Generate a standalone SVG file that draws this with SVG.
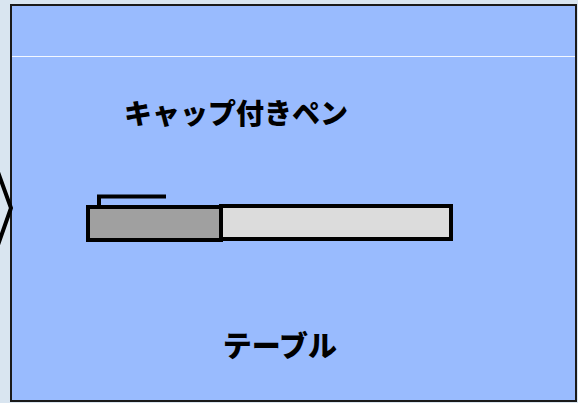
<svg xmlns="http://www.w3.org/2000/svg" width="578" height="403" viewBox="0 0 578 403">
  <style>
    .lbl { font-family: "Noto Sans CJK JP", "Liberation Sans", sans-serif; font-weight: 900; fill: #000; }
    .ink { stroke: #000; stroke-width: 4; fill: none; }
  </style>
  <!-- page background -->
  <rect x="0" y="0" width="578" height="403" fill="#d9e5f0"/>
  <!-- table panel -->
  <g id="table">
    <rect x="11" y="5" width="565" height="396" fill="#99bbfe" stroke="#1a1a1a" stroke-width="2"/>
    <line x1="12" y1="56.5" x2="575" y2="56.5" stroke="#f4f8ff" stroke-width="1"/>
    <text class="lbl" x="280" y="357" font-size="29" text-anchor="middle">テーブル</text>
  </g>
  <!-- pen with cap -->
  <g id="pen">
    <rect x="221" y="206" width="230" height="33" fill="#dcdcdc" stroke="#000" stroke-width="4"/>
    <rect x="88" y="207" width="133" height="33" fill="#a0a0a0" stroke="#000" stroke-width="4"/>
    <polyline class="ink" points="99,206 99,196.5 166,196.5"/>
    <text class="lbl" x="236" y="124" font-size="28" text-anchor="middle">キャップ付きペン</text>
  </g>
  <!-- chevron at the left edge -->
  <g id="connectors">
    <polyline class="ink" points="-2,172 11,208 -2,245" stroke-width="3.5"/>
  </g>
</svg>
